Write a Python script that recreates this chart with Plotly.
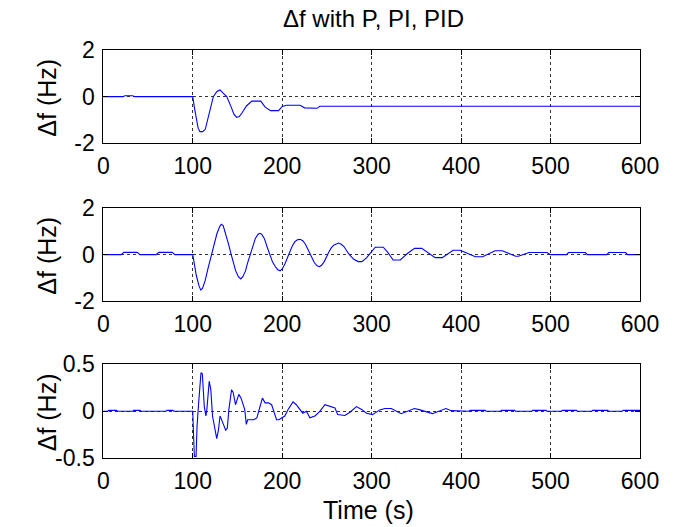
import plotly.graph_objects as go

# ---------------- data ----------------
# Panel 1: P controller
t_p = [0, 22, 24, 33, 35, 100, 102, 104, 106, 108, 111, 114, 118, 123, 127, 130.5, 134, 138,
       143, 146, 149, 152, 155, 160, 166, 176, 181, 187, 196, 200, 205, 220, 225, 239, 242, 600]
f_p = [0, 0, 0.04, 0.04, 0, 0, -0.5, -1.0, -1.35, -1.5, -1.5, -1.4, -0.75, 0, 0.22, 0.29,
       0.15, 0, -0.45, -0.75, -0.89, -0.85, -0.7, -0.4, -0.19, -0.19, -0.45, -0.6, -0.6, -0.42,
       -0.37, -0.37, -0.48, -0.5, -0.41, -0.41]

# Panel 2: PI controller
t_pi = [0, 20, 23, 38, 41, 59, 62, 77, 80, 100, 102, 104, 107, 109, 111, 114, 117, 121, 124,
        127, 130, 132, 134, 137, 140, 143, 146, 148, 151, 153.7, 156, 159, 161, 164, 167, 170,
        173, 175, 177, 180, 183, 186, 189, 192, 195, 197.7, 200, 203, 208, 211, 214, 217, 220,
        223, 226, 231, 234, 236, 239, 241.6, 244, 247, 252, 255, 258, 261, 263, 266, 269, 274,
        280, 285, 289, 294, 299, 304, 313, 318, 324, 332, 340, 348, 356, 364, 371, 379, 385,
        391, 399, 407, 416, 424, 431, 438, 446, 453, 461, 464, 470, 476, 496, 500, 518, 520,
        539, 541, 563, 565, 584, 586, 600]
f_pi = [0, 0, 0.1, 0.1, 0, 0, 0.1, 0.1, 0, 0, -0.45, -0.9, -1.35, -1.53, -1.45, -1.1, -0.6,
        0, 0.5, 0.9, 1.2, 1.31, 1.25, 0.9, 0.45, 0, -0.45, -0.7, -0.95, -1.05, -0.95, -0.7,
        -0.4, 0, 0.4, 0.7, 0.88, 0.92, 0.88, 0.7, 0.35, 0, -0.3, -0.5, -0.65, -0.7, -0.62,
        -0.4, 0.1, 0.35, 0.55, 0.64, 0.66, 0.6, 0.45, 0.05, -0.2, -0.35, -0.48, -0.52, -0.46,
        -0.3, 0.1, 0.3, 0.42, 0.49, 0.5, 0.45, 0.35, 0.05, -0.2, -0.3, -0.3, -0.15, 0.1, 0.32,
        0.32, 0.1, -0.23, -0.23, 0.05, 0.27, 0.27, 0.05, -0.13, -0.13, 0.05, 0.19, 0.19, 0.05,
        -0.09, -0.09, 0.05, 0.17, 0.17, 0.05, -0.07, -0.07, 0.02, 0.09, 0.09, 0, 0, 0.09, 0.09,
        0, 0, 0.09, 0.09, 0, 0]

# Panel 3: PID controller
t_pid = [0, 5, 6, 15, 16, 33, 34, 41, 42, 70, 71, 78, 79, 100, 100.7, 101.8, 103.7, 104.8,
         106.6, 109.2, 110.7, 112.9, 114.7, 115.8, 118.4, 120.2, 122.1, 124.6, 126.8, 128.7,
         130.5, 133.1, 134.9, 136.8, 138.6, 140.4, 143.4, 145.2, 147.8, 151.5, 154, 156.2,
         158.1, 159.9, 161.4, 168, 171.7, 174.3, 177.9, 180.9, 184.5, 188.2, 191.2, 193.7,
         196.3, 200, 202.9, 206.6, 209.5, 212.1, 215.8, 219.5, 223, 227, 231, 236.6, 242,
         247.8, 253, 259, 262, 270, 275.8, 283, 288.8, 294.4, 301, 309, 315, 322, 333, 347.8,
         353, 368, 383, 389, 409, 410, 427, 428, 444, 445, 460, 461, 479, 480, 495, 496, 512,
         513, 529, 530, 546, 547, 564, 565, 580, 581, 600]
f_pid = [0, 0, 0.01, 0.01, 0, 0, 0.01, 0.01, 0, 0, 0.01, 0.01, 0, 0, -0.2, -0.48, -0.48, -0.16,
         0.09, 0.41, 0.4, 0.05, -0.05, 0.02, 0.32, 0.23, -0.05, -0.16, -0.29, -0.2, -0.05,
         -0.11, -0.16, -0.2, -0.18, 0.02, 0.23, 0.2, 0.07, 0.18, 0.14, 0.07, 0.02, -0.14, -0.09,
         -0.09, -0.07, 0.02, 0.14, 0.09, 0.09, 0.07, -0.02, -0.09, -0.09, -0.07, -0.05, 0.02,
         0.07, 0.1, 0.07, 0.02, -0.02, 0, -0.07, -0.05, 0, 0.07, 0.05, 0.035, -0.035, -0.045,
         -0.01, 0.05, 0.02, -0.02, -0.035, 0.015, 0.03, 0.03, -0.025, 0.03, 0.018, -0.025, 0.03,
         0.007, 0, 0.01, 0.01, 0, 0, 0.01, 0.01, 0, 0, 0.01, 0.01, 0, 0, 0.01, 0.01, 0, 0, 0.01,
         0.01, 0, 0, 0.01, 0.01]

x_ticks = [0, 100, 200, 300, 400, 500, 600]
y_ticks_12 = [-2, 0, 2]
y_ticks_3 = [-0.5, 0, 0.5]
y_ticklabels_3 = ["-0.5", "0", "0.5"]

title_text = "\u0394f with P, PI, PID"
ylabel_text = "\u0394f (Hz)"
xlabel_text = "Time (s)"

# ---------------- layout ----------------
W, H = 681, 527
FONT = "Arial, Liberation Sans, sans-serif"
FS = 23
x0, x1 = 103.3, 640.0
panels = [(50, 143.3), (208.3, 301.0), (364.3, 458.3)]


def xd():
    return [x0 / W, x1 / W]


def yd(top, bot):
    return [1 - bot / H, 1 - top / H]


fig = go.Figure()
series = [(t_p, f_p), (t_pi, f_pi), (t_pid, f_pid)]
for i, (tx, fy) in enumerate(series):
    sfx = "" if i == 0 else str(i + 1)
    fig.add_trace(go.Scatter(
        x=tx, y=fy[:len(tx)], mode="lines",
        line=dict(color="#0000FF", width=1.1),
        xaxis="x" + sfx, yaxis="y" + sfx, showlegend=False, hoverinfo="skip"))

common_axis = dict(
    showline=True, linecolor="black", linewidth=1, mirror="ticks",
    ticks="inside", ticklen=5, tickcolor="black", automargin=False,
    showgrid=True, gridcolor="#333333", gridwidth=1, griddash="3px,3px",
    zeroline=False, tickfont=dict(family=FONT, size=FS, color="black"),
)

layout = dict(
    width=W, height=H, margin=dict(l=0, r=0, t=0, b=0, pad=0, autoexpand=False),
    paper_bgcolor="white", plot_bgcolor="white",
    font=dict(family=FONT, size=FS, color="black"),
)
for i, (top, bot) in enumerate(panels):
    sfx = "" if i == 0 else str(i + 1)
    layout["xaxis" + sfx] = dict(
        common_axis, domain=xd(), range=[0, 600], tickvals=x_ticks,
        anchor="y" + sfx, ticklabelstandoff=2)
    if i < 2:
        yv, yt, yr = y_ticks_12, [str(v) for v in y_ticks_12], [-2, 2]
    else:
        yv, yt, yr = y_ticks_3, y_ticklabels_3, [-0.5, 0.5]
    layout["yaxis" + sfx] = dict(
        common_axis, domain=yd(top, bot), range=yr, tickvals=yv, ticktext=yt,
        anchor="x" + sfx, ticklabelstandoff=3)

fig.update_layout(**layout)

annotations = [dict(text=title_text, x=373 / W, y=1 - 18 / H, xref="paper", yref="paper",
                    showarrow=False, xanchor="center", yanchor="middle",
                    font=dict(family=FONT, size=24, color="black"))]
for top, bot in panels:
    annotations.append(dict(text=ylabel_text, x=47 / W, y=1 - ((top + bot) / 2 + 1) / H,
                            xref="paper", yref="paper", showarrow=False, textangle=-90,
                            xanchor="center", yanchor="middle",
                            font=dict(family=FONT, size=25, color="black")))
annotations.append(dict(text=xlabel_text, x=368 / W, y=1 - 510 / H, xref="paper", yref="paper",
                        showarrow=False, xanchor="center", yanchor="middle",
                        font=dict(family=FONT, size=25, color="black")))
fig.update_layout(annotations=annotations)

fig.write_html("out.html")
